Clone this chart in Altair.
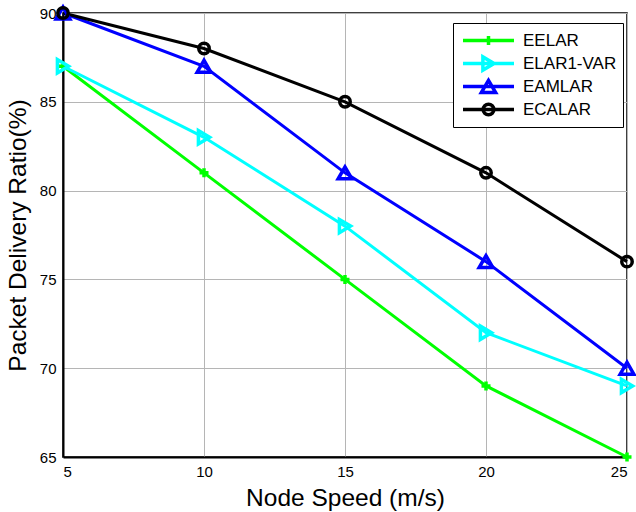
import altair as alt
import pandas as pd

speeds = [5, 10, 15, 20, 25]
series_names = ["EELAR", "ELAR1-VAR", "EAMLAR", "ECALAR"]
eelar = [87, 81, 75, 69, 65]
elar1_var = [87, 83, 78, 72, 69]
eamlar = [90, 87, 81, 76, 70]
ecalar = [90, 88, 85, 81, 76]
colors = ["#00ff00", "#00ffff", "#0000ff", "#000000"]

values = [eelar, elar1_var, eamlar, ecalar]
rows = []
for name, vals in zip(series_names, values):
    for s, v in zip(speeds, vals):
        rows.append({"speed": s, "pdr": v, "series": name})
df = pd.DataFrame(rows)

# marker shapes in plot (unit scale: sqrt(324)/2 = 9 px per unit)
plot_shapes = [
    "M-0.5,0H0.5M0,-0.5V0.5",
    "M0.62,0L-0.62,-0.74L-0.62,0.74Z",
    "M0,-0.66L-0.76,0.66L0.76,0.66Z",
    "M-0.58,0A0.58,0.58,0,1,1,0.58,0A0.58,0.58,0,1,1,-0.58,0Z",
]
# legend symbols: line + marker (unit scale: sqrt(2601)/2 = 25.5 px per unit)
legend_shapes = [
    "M-1,0H1M0,-0.18V0.18",
    "M-1,0H1M0.22,0L-0.22,-0.26L-0.22,0.26Z",
    "M-1,0H1M0,-0.24L-0.28,0.24L0.28,0.24Z",
    "M-1,0H1M-0.21,0A0.21,0.21,0,1,1,0.21,0A0.21,0.21,0,1,1,-0.21,0Z",
]

FONT = "Liberation Sans"

x_enc = alt.X(
    "speed:Q",
    scale=alt.Scale(domain=[5, 25], nice=False, zero=False),
    axis=alt.Axis(
        values=speeds, format="d", title="Node Speed (m/s)",
        titleY=48, titleBaseline="alphabetic",
    ),
)
y_enc = alt.Y(
    "pdr:Q",
    scale=alt.Scale(domain=[65, 90], nice=False, zero=False),
    axis=alt.Axis(
        values=[65, 70, 75, 80, 85, 90], title="Packet Delivery Ratio(%)",
        titleX=-38, titleBaseline="alphabetic",
    ),
)

base = alt.Chart(df)

lines = base.mark_line(strokeWidth=3).encode(
    x=x_enc, y=y_enc,
    color=alt.Color("series:N", scale=alt.Scale(domain=series_names, range=colors), legend=None),
    detail="series:N",
)

points = base.mark_point(filled=False, strokeWidth=3.5, size=324, opacity=1).encode(
    x=x_enc, y=y_enc,
    color=alt.Color("series:N", scale=alt.Scale(domain=series_names, range=colors), legend=None),
    shape=alt.Shape("series:N", scale=alt.Scale(domain=series_names, range=plot_shapes), legend=None),
)

leg = dict(
    title=None, orient="none", legendX=390, legendY=10,
    strokeColor="black", fillColor="white", padding=6,
    symbolSize=2601, symbolStrokeWidth=3.5, symbolOpacity=1,
    symbolOffset=2, labelOffset=7, clipHeight=23, rowPadding=0,
    labelFont=FONT, labelFontSize=17, labelColor="black",
    labelLimit=300, cornerRadius=0,
)

legend_layer = base.mark_point(filled=False, strokeWidth=3.5, size=2601, opacity=0).encode(
    x=x_enc, y=y_enc,
    color=alt.Color("series:N", scale=alt.Scale(domain=series_names, range=colors),
                    legend=alt.Legend(**leg)),
    shape=alt.Shape("series:N", scale=alt.Scale(domain=series_names, range=legend_shapes),
                    legend=alt.Legend(**leg)),
)

chart = (
    alt.layer(lines, points, legend_layer)
    .resolve_scale(color="independent", shape="independent")
    .properties(
        width=564, height=444,
        background="white",
        autosize=alt.AutoSizeParams(type="none"),
        padding={"left": 63, "top": 13, "right": 9, "bottom": 55},
    )
    .configure_view(stroke="black", strokeWidth=1.5)
    .configure_axis(
        labelFont=FONT, labelFontSize=15, labelColor="black",
        titleFont=FONT, titleFontSize=24.5, titleFontWeight="normal", titleColor="black",
        ticks=False, domainColor="black", domainWidth=2,
        grid=True, gridColor="#b5b5b5", gridWidth=1,
    )
    .configure_axisX(labelPadding=7)
    .configure_axisY(labelPadding=7)
)

chart.save("out.html", embed_options={"renderer": "svg", "actions": False})
